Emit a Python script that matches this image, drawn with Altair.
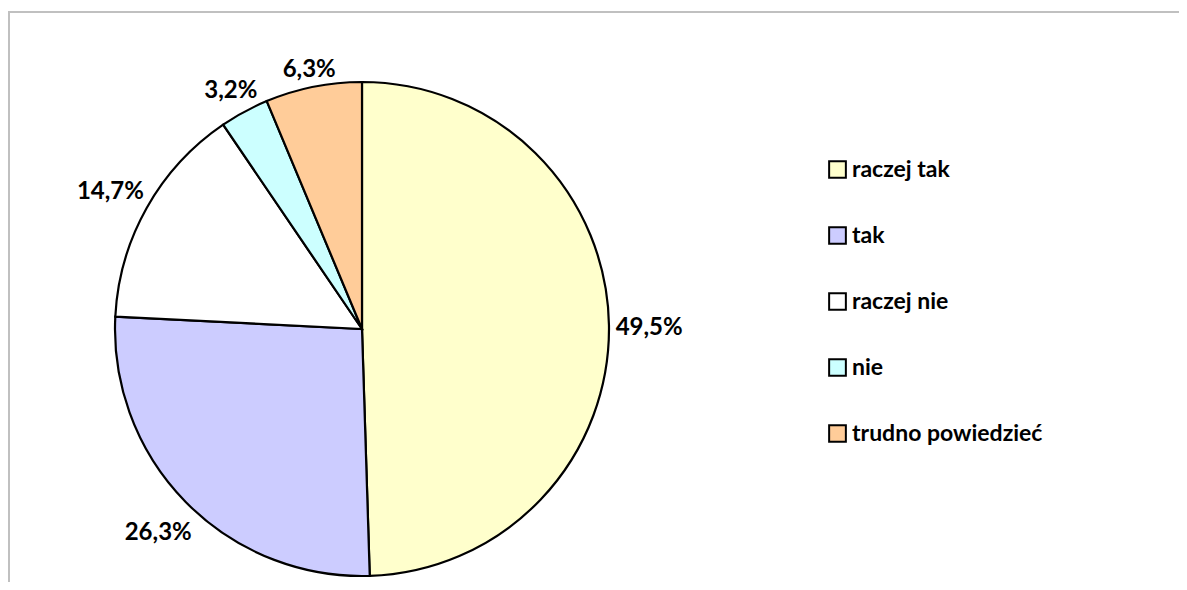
import altair as alt
import pandas as pd

categories = ["raczej tak", "tak", "raczej nie", "nie", "trudno powiedzieć"]
values = [49.5, 26.3, 14.7, 3.2, 6.3]
colors = ["#FFFFCC", "#CCCCFF", "#FFFFFF", "#CCFFFF", "#FFCC99"]

labels = [f"{v:.1f}".replace(".", ",") + "%" for v in values]
df = pd.DataFrame({"cat": categories, "value": values, "order": list(range(len(values))), "label": labels})

W, H = 1171, 574
CX, CY, R = 354, 321, 247
FONT = "Lato"

color = alt.Color("cat:N", scale=alt.Scale(domain=categories, range=colors),
                  sort=categories,
                  legend=alt.Legend(title=None, orient="none", legendX=818, legendY=150,
                                    symbolType="square", symbolSize=280, symbolStrokeColor="black",
                                    symbolStrokeWidth=2, labelFont=FONT, labelFontSize=23,
                                    labelFontWeight="bold", labelColor="black", labelOffset=3,
                                    labelLimit=500, rowPadding=41, symbolOpacity=1))

base = alt.Chart(df)

pie = base.mark_arc(radius=R, stroke="black", strokeWidth=2.2).encode(
    theta=alt.Theta("value:Q", stack=True),
    order=alt.Order("order:Q"),
    color=color,
    x=alt.value(CX), y=alt.value(CY),
)

text = base.transform_joinaggregate(total="sum(value)").transform_window(
    cum="sum(value)", sort=[alt.SortField("order")], frame=[None, 0]
).transform_calculate(
    mid="(datum.cum - datum.value/2) / datum.total * 2 * PI"
).transform_calculate(
    r=f"{R} + 3 + length(datum.label) * 7.4 * abs(sin(datum.mid)) + 13 * abs(cos(datum.mid))"
).mark_text(font=FONT, fontSize=24, fontWeight="bold", color="black", align="center",
            baseline="middle", dy=4).encode(
    theta=alt.Theta("mid:Q", scale=None, stack=None),
    radius=alt.Radius("r:Q", scale=None),
    text="label:N",
    x=alt.value(CX), y=alt.value(CY),
)

border_top = alt.Chart(df.head(1)).mark_rule(color="#c0c0c0", strokeWidth=2).encode(
    x=alt.value(0), x2=alt.value(W), y=alt.value(4))
border_left = alt.Chart(df.head(1)).mark_rule(color="#c0c0c0", strokeWidth=2).encode(
    x=alt.value(1), y=alt.value(4), y2=alt.value(H))

chart = alt.layer(pie, text, border_top, border_left).properties(
    width=W, height=H, padding=0, autosize=alt.AutoSizeParams(type="none"),
    background="white"
).configure_view(stroke=None)

chart.save("out.html", embed_options={"renderer": "svg", "actions": False})
